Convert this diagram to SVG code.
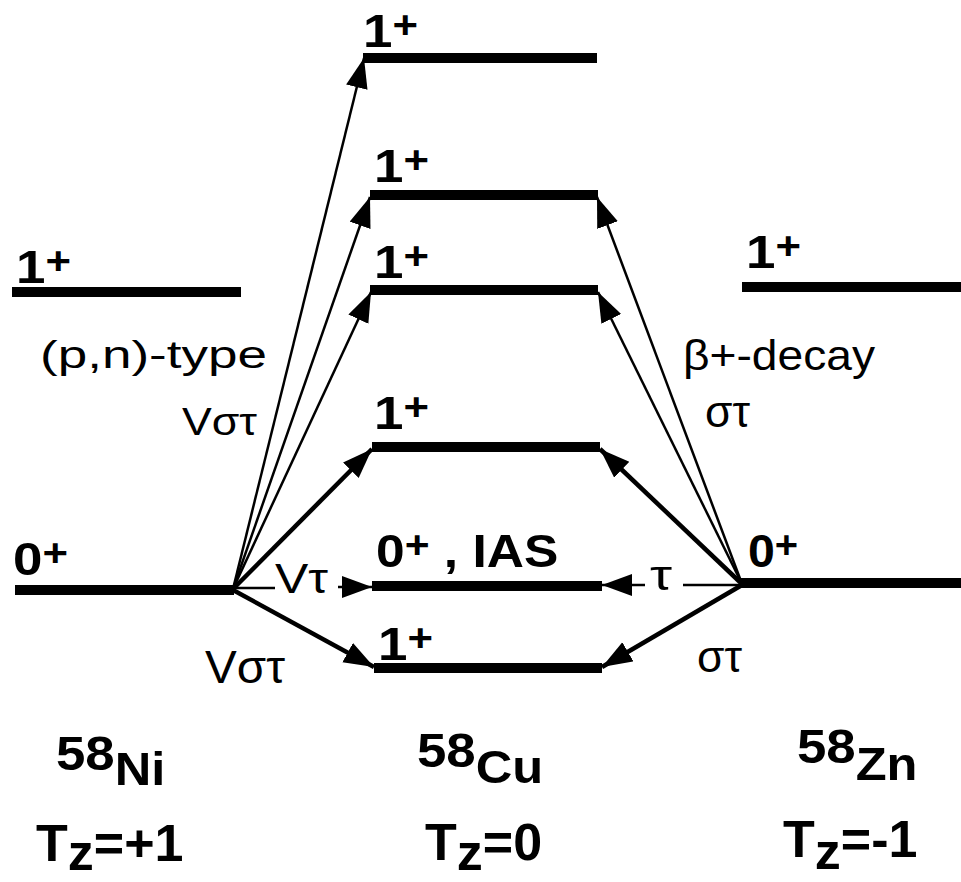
<svg xmlns="http://www.w3.org/2000/svg" width="961" height="882" viewBox="0 0 961 882">
<style>
  .lvl { stroke: #000; stroke-width: 10; fill: none; }
  .thin { stroke: #000; stroke-width: 2.5; fill: none; }
  .thick { stroke: #000; stroke-width: 4.5; fill: none; }
  .b { font-family: "Liberation Sans", Arial, sans-serif; font-weight: bold; fill: #000; }
  .r { font-family: "Liberation Sans", Arial, sans-serif; fill: #000; }
  .jp { font-size: 46px; }
  .sup { font-size: 38px; }
  .iso { font-size: 48px; }
  .tz { font-size: 52px; }
</style>
<defs>
  <marker id="ah" markerUnits="userSpaceOnUse" markerWidth="32" markerHeight="24" refX="30" refY="11" orient="auto">
    <path d="M0,0 L30,11 L0,22 z" fill="#000"/>
  </marker>
</defs>
<rect width="961" height="882" fill="#fff"/>

<g id="ni-levels">
  <g id="ni-1plus">
    <line class="lvl" x1="12" y1="292" x2="241" y2="292"/>
    <text class="b jp" transform="translate(16,283) scale(1.15,1)">1<tspan class="sup" dy="-9">+</tspan></text>
  </g>
  <g id="ni-0plus">
    <line class="lvl" x1="15" y1="590" x2="234" y2="590" stroke-width="11"/>
    <text class="b jp" transform="translate(13,575) scale(1.15,1)">0<tspan class="sup" dy="-9">+</tspan></text>
  </g>
</g>

<g id="cu-levels">
  <g id="cu-1plus-a">
    <line class="lvl" x1="363" y1="58" x2="597" y2="58"/>
    <text class="b jp" transform="translate(363,47) scale(1.15,1)">1<tspan class="sup" dy="-9">+</tspan></text>
  </g>
  <g id="cu-1plus-b">
    <line class="lvl" x1="370" y1="195" x2="598" y2="195"/>
    <text class="b jp" transform="translate(374,182) scale(1.15,1)">1<tspan class="sup" dy="-9">+</tspan></text>
  </g>
  <g id="cu-1plus-c">
    <line class="lvl" x1="370" y1="290" x2="598" y2="290"/>
    <text class="b jp" transform="translate(374,278) scale(1.15,1)">1<tspan class="sup" dy="-9">+</tspan></text>
  </g>
  <g id="cu-1plus-d">
    <line class="lvl" x1="372" y1="447" x2="600" y2="447"/>
    <text class="b jp" transform="translate(374,429) scale(1.15,1)">1<tspan class="sup" dy="-9">+</tspan></text>
  </g>
  <g id="cu-ias">
    <line class="lvl" x1="372" y1="586" x2="602" y2="586" stroke-width="11"/>
    <text class="b jp" transform="translate(376,567) scale(1.12,1)">0<tspan class="sup" dy="-9">+</tspan><tspan dy="9"> , IAS</tspan></text>
  </g>
  <g id="cu-1plus-e">
    <line class="lvl" x1="374" y1="668" x2="602" y2="668" stroke-width="11"/>
    <text class="b jp" transform="translate(378,660) scale(1.15,1)">1<tspan class="sup" dy="-9">+</tspan></text>
  </g>
</g>

<g id="zn-levels">
  <g id="zn-1plus">
    <line class="lvl" x1="742" y1="287" x2="961" y2="287"/>
    <text class="b jp" transform="translate(746,268) scale(1.15,1)">1<tspan class="sup" dy="-9">+</tspan></text>
  </g>
  <g id="zn-0plus">
    <line class="lvl" x1="740" y1="583" x2="961" y2="583"/>
    <text class="b jp" transform="translate(748,567) scale(1.05,1)">0<tspan class="sup" dy="-9">+</tspan></text>
  </g>
</g>

<g id="connectors">
  <line class="thin" x1="233" y1="589" x2="364" y2="58" marker-end="url(#ah)"/>
  <line class="thin" x1="233" y1="589" x2="370" y2="197" marker-end="url(#ah)"/>
  <line class="thin" x1="233" y1="589" x2="371" y2="292" marker-end="url(#ah)"/>
  <line class="thick" x1="233" y1="589" x2="372" y2="449" marker-end="url(#ah)"/>
  <line class="thin" x1="233" y1="588" x2="275" y2="588"/>
  <line class="thin" x1="338" y1="587" x2="372" y2="587" marker-end="url(#ah)"/>
  <line class="thick" x1="233" y1="590" x2="374" y2="667" marker-end="url(#ah)"/>

  <line class="thin" x1="742" y1="584" x2="597" y2="197" marker-end="url(#ah)"/>
  <line class="thin" x1="742" y1="584" x2="598" y2="292" marker-end="url(#ah)"/>
  <line class="thick" x1="742" y1="584" x2="600" y2="449" marker-end="url(#ah)"/>
  <line class="thin" x1="742" y1="585" x2="683" y2="585"/>
  <line class="thin" x1="645" y1="585" x2="602" y2="585" marker-end="url(#ah)"/>
  <line class="thick" x1="742" y1="585" x2="602" y2="667" marker-end="url(#ah)"/>
</g>

<g id="labels">
  <text class="r" x="40" y="368" font-size="38" textLength="227" lengthAdjust="spacingAndGlyphs">(p,n)-type</text>
  <text class="r" x="182" y="435" font-size="38" textLength="75" lengthAdjust="spacingAndGlyphs">Vστ</text>
  <text class="r" x="275" y="593" font-size="42" textLength="53" lengthAdjust="spacingAndGlyphs">Vτ</text>
  <text class="r" x="205" y="683" font-size="46" textLength="80" lengthAdjust="spacingAndGlyphs">Vστ</text>
  <text class="r" x="683" y="370" font-size="42" textLength="192" lengthAdjust="spacingAndGlyphs">β+-decay</text>
  <text class="r" x="705" y="427" font-size="44" textLength="45" lengthAdjust="spacingAndGlyphs">στ</text>
  <text class="r" x="650" y="590" font-size="42" textLength="22" lengthAdjust="spacingAndGlyphs">τ</text>
  <text class="r" x="697" y="672" font-size="44" textLength="45" lengthAdjust="spacingAndGlyphs">στ</text>
</g>

<g id="nuclei">
  <g id="ni">
    <text class="b iso" transform="translate(56,770) scale(1.1,1)">58<tspan font-size="46" dy="15">Ni</tspan></text>
    <text class="b tz" transform="translate(36,861)">T<tspan dy="9">z</tspan><tspan dy="-9">=+1</tspan></text>
  </g>
  <g id="cu">
    <text class="b iso" transform="translate(417,767) scale(1.1,1)">58<tspan font-size="46" dy="16">Cu</tspan></text>
    <text class="b tz" transform="translate(425,860)">T<tspan dy="10">z</tspan><tspan dy="-10">=0</tspan></text>
  </g>
  <g id="zn">
    <text class="b iso" transform="translate(797,763) scale(1.1,1)">58<tspan font-size="46" dy="17">Zn</tspan></text>
    <text class="b tz" transform="translate(783,857)">T<tspan dy="12">z</tspan><tspan dy="-12">=-1</tspan></text>
  </g>
</g>
</svg>
